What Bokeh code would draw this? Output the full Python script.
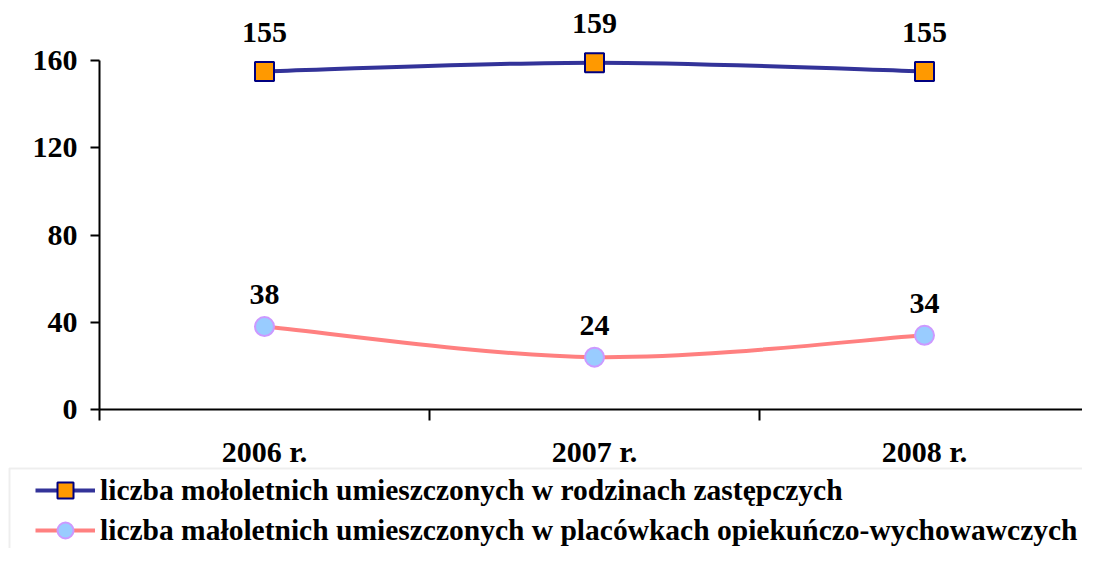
from bokeh.plotting import figure
from bokeh.models import (Range1d, FixedTicker, Legend, LegendItem,
                          BoxAnnotation, ColumnDataSource)
from bokeh.embed import file_html
from bokeh.resources import INLINE
from bokeh.core.properties import value

# ---- data ----
categories = ["2006 r.", "2007 r.", "2008 r."]
foster_families = [155, 159, 155]
care_institutions = [38, 24, 34]
y_ticks = [0, 40, 80, 120, 160]
series_names = [
    "liczba mołoletnich umieszczonych w rodzinach zastępczych",
    "liczba małoletnich umieszczonych w placówkach opiekuńczo-wychowawczych",
]

# ---- layout (pixels) ----
W, H = 1082, 548
X0_PX = 99          # pixel of category-axis start
CAT_PX = 330        # pixels per category
Y0_PX = 409         # pixel of value 0
YTOP_PX = 60        # pixel of top tick
px_per_val = (Y0_PX - YTOP_PX) / y_ticks[-1]

x_start = -X0_PX / CAT_PX
x_end = (W - X0_PX) / CAT_PX
y_start = -(H - Y0_PX) / px_per_val
y_end = y_ticks[-1] + YTOP_PX / px_per_val

FONT = "Liberation Serif"
FS = "30px"
LEG_FS = "29.5px"

p = figure(width=W, height=H, x_range=Range1d(x_start, x_end),
           y_range=Range1d(y_start, y_end), output_backend="svg",
           toolbar_location=None, min_border_left=0, min_border_right=0,
           min_border_top=0, min_border_bottom=0)
p.title.visible = False
p.outline_line_color = None
p.xgrid.visible = False
p.ygrid.visible = False
p.background_fill_color = "white"
p.border_fill_color = "white"

xpos = [categories.index(c) + 0.5 for c in categories]


def smooth(xs, ys):
    n = len(xs)
    d = dict(x0=[], y0=[], x1=[], y1=[], cx0=[], cy0=[], cx1=[], cy1=[])
    for i in range(n - 1):
        a = max(i - 1, 0)
        b = min(i + 2, n - 1)
        d["x0"].append(xs[i]); d["y0"].append(ys[i])
        d["x1"].append(xs[i + 1]); d["y1"].append(ys[i + 1])
        d["cx0"].append(xs[i] + (xs[i + 1] - xs[a]) / 6)
        d["cy0"].append(ys[i] + (ys[i + 1] - ys[a]) / 6)
        d["cx1"].append(xs[i + 1] - (xs[b] - xs[i]) / 6)
        d["cy1"].append(ys[i + 1] - (ys[b] - ys[i]) / 6)
    return ColumnDataSource(d)


styles = [
    dict(line="#333399", marker="square", fill="#FF9900", edge="#000080", off=-39),
    dict(line="#FF8080", marker="circle", fill="#99CCFF", edge="#CC99FF", off=-32),
]

items = []
for vals, name, st in zip([foster_families, care_institutions], series_names, styles):
    bez = p.bezier(x0="x0", y0="y0", x1="x1", y1="y1", cx0="cx0", cy0="cy0",
                   cx1="cx1", cy1="cy1", source=smooth(xpos, vals),
                   line_color=st["line"], line_width=4)
    src = ColumnDataSource(dict(x=xpos, y=vals, t=[str(v) for v in vals]))
    sc = p.scatter("x", "y", source=src, marker=st["marker"], size=19,
                   fill_color=st["fill"], line_color=st["edge"], line_width=2)
    p.text("x", "y", text="t", source=src, y_offset=st["off"],
           text_align="center", text_baseline="alphabetic",
           text_font=value(FONT), text_font_style="bold",
           text_font_size=FS, text_color="black")
    items.append(LegendItem(label=name, renderers=[bez, sc]))

# ---- axes ----
yax = p.yaxis[0]
yax.fixed_location = 0
yax.ticker = FixedTicker(ticks=y_ticks, minor_ticks=[])
yax.bounds = (y_ticks[0], y_ticks[-1])
yax.axis_line_width = 2
yax.major_tick_line_width = 2
yax.major_tick_out = 9
yax.major_tick_in = 0
yax.major_label_standoff = 13
yax.major_label_text_font = FONT
yax.major_label_text_font_style = "bold"
yax.major_label_text_font_size = FS
yax.major_label_text_color = "black"

xax = p.xaxis[0]
xax.fixed_location = 0
xax.ticker = FixedTicker(ticks=xpos, minor_ticks=list(range(len(categories) + 1)))
xax.bounds = (0, len(categories))
xax.major_label_overrides = {x: c for x, c in zip(xpos, categories)}
xax.axis_line_width = 2
xax.major_tick_out = 0
xax.major_tick_in = 0
xax.minor_tick_out = 11
xax.minor_tick_in = 0
xax.minor_tick_line_width = 2
xax.minor_tick_line_color = "black"
xax.major_label_standoff = 14
xax.major_label_text_font = FONT
xax.major_label_text_font_style = "bold"
xax.major_label_text_font_size = FS
xax.major_label_text_color = "black"

# ---- legend ----
ROW1 = 490
GH = 40
leg_top = ROW1 - GH / 2
leg_h = 2 * GH
legend = Legend(items=items, location=(35, H - (leg_top + leg_h)),
                glyph_width=60, glyph_height=GH, spacing=0,
                padding=0, margin=0, label_standoff=5,
                border_line_color=None, background_fill_alpha=0,
                label_text_font=FONT, label_text_font_style="bold",
                label_text_font_size=LEG_FS, label_text_color="black")
p.add_layout(legend)

legend_box = BoxAnnotation(left=9, right=3000, top=ROW1 - 22, bottom=3000,
                           left_units="canvas", right_units="canvas",
                           top_units="canvas", bottom_units="canvas",
                           fill_color=None, line_color="#C8C8C8", line_width=2)
p.add_layout(legend_box)

open("out.html", "w").write(file_html(p, INLINE))
